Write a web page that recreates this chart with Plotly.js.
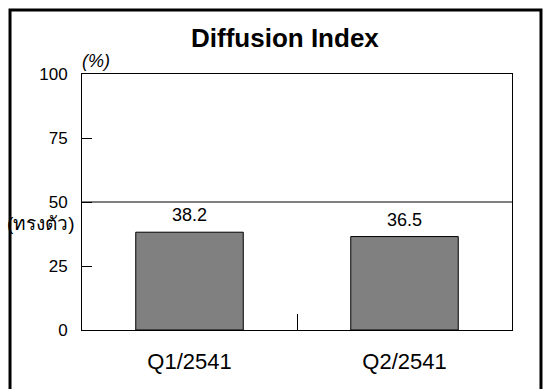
<!DOCTYPE html>
<html>
<head>
<meta charset="utf-8">
<script src="https://cdn.plot.ly/plotly-3.0.1.min.js"></script>
<style>html,body{margin:0;padding:0;background:#fff;}</style>
</head>
<body>
<div id="chart" style="width:549px;height:389px;"></div>
<script>
var categories = ["Q1/2541", "Q2/2541"];
var values = [38.2, 36.5];
var yTicks = [0, 25, 50, 75, 100];
var stableLevel = 50;
var chartTitle = "Diffusion Index";
var unitLabel = "(%)";
var stableLabel = "(ทรงตัว)";

var FONT = "Arial, Liberation Sans, sans-serif";

var trace = {
  type: "bar",
  x: categories,
  y: values,
  width: 0.5,
  marker: {color: "#808080", line: {color: "#000", width: 1}},
  hoverinfo: "none"
};

var valueLabels = categories.map(function(c, i){
  return {text: values[i].toFixed(1), xref: "x", yref: "y", x: c, y: values[i],
          yshift: 5, xanchor: "center", yanchor: "bottom", showarrow: false,
          font: {size: 18, color: "#000"}};
});

var layout = {
  width: 549, height: 389,
  margin: {l: 82, r: 37, t: 74, b: 59},
  paper_bgcolor: "#fff", plot_bgcolor: "#fff",
  showlegend: false,
  font: {family: FONT, color: "#000"},
  title: {text: "<b>" + chartTitle + "</b>", font: {size: 26, color: "#000"},
          x: 0.519, xanchor: "center", y: 0.902, yanchor: "middle"},
  xaxis: {
    type: "category",
    showline: true, linecolor: "#000", linewidth: 1, mirror: true,
    ticks: "inside", tickson: "boundaries", ticklen: 16, tickcolor: "#000", tickwidth: 1,
    tickfont: {size: 22}, showgrid: false, zeroline: false, fixedrange: true,
    ticklabelstandoff: 12
  },
  yaxis: {
    range: [0, 100],
    tickvals: yTicks,
    ticktext: yTicks.map(String),
    showline: true, linecolor: "#000", linewidth: 1, mirror: true,
    ticks: "inside", ticklen: 10, tickcolor: "#000", tickwidth: 1,
    tickfont: {size: 17}, showgrid: false, zeroline: false, fixedrange: true,
    ticklabelstandoff: 10
  },
  shapes: [
    {type: "line", xref: "paper", yref: "y", x0: 0, x1: 1, y0: stableLevel, y1: stableLevel,
     line: {color: "#000", width: 1}},
    {type: "rect", xref: "paper", yref: "paper", x0: -0.1674, x1: 1.0674, y0: -0.26, y1: 1.25,
     line: {color: "#000", width: 3}, layer: "above"}
  ],
  annotations: valueLabels.concat([
    {text: "<i>" + unitLabel + "</i>", xref: "paper", yref: "paper", x: 0, xshift: -2, y: 1.0, yshift: 1,
     xanchor: "left", yanchor: "bottom", showarrow: false, font: {size: 18}},
    {text: stableLabel, xref: "paper", yref: "y", x: 0, xshift: -41, y: stableLevel, yshift: -21,
     xanchor: "center", yanchor: "middle", showarrow: false, font: {size: 19}}
  ])
};

Plotly.newPlot("chart", [trace], layout, {staticPlot: true, displayModeBar: false});
</script>
</body>
</html>
